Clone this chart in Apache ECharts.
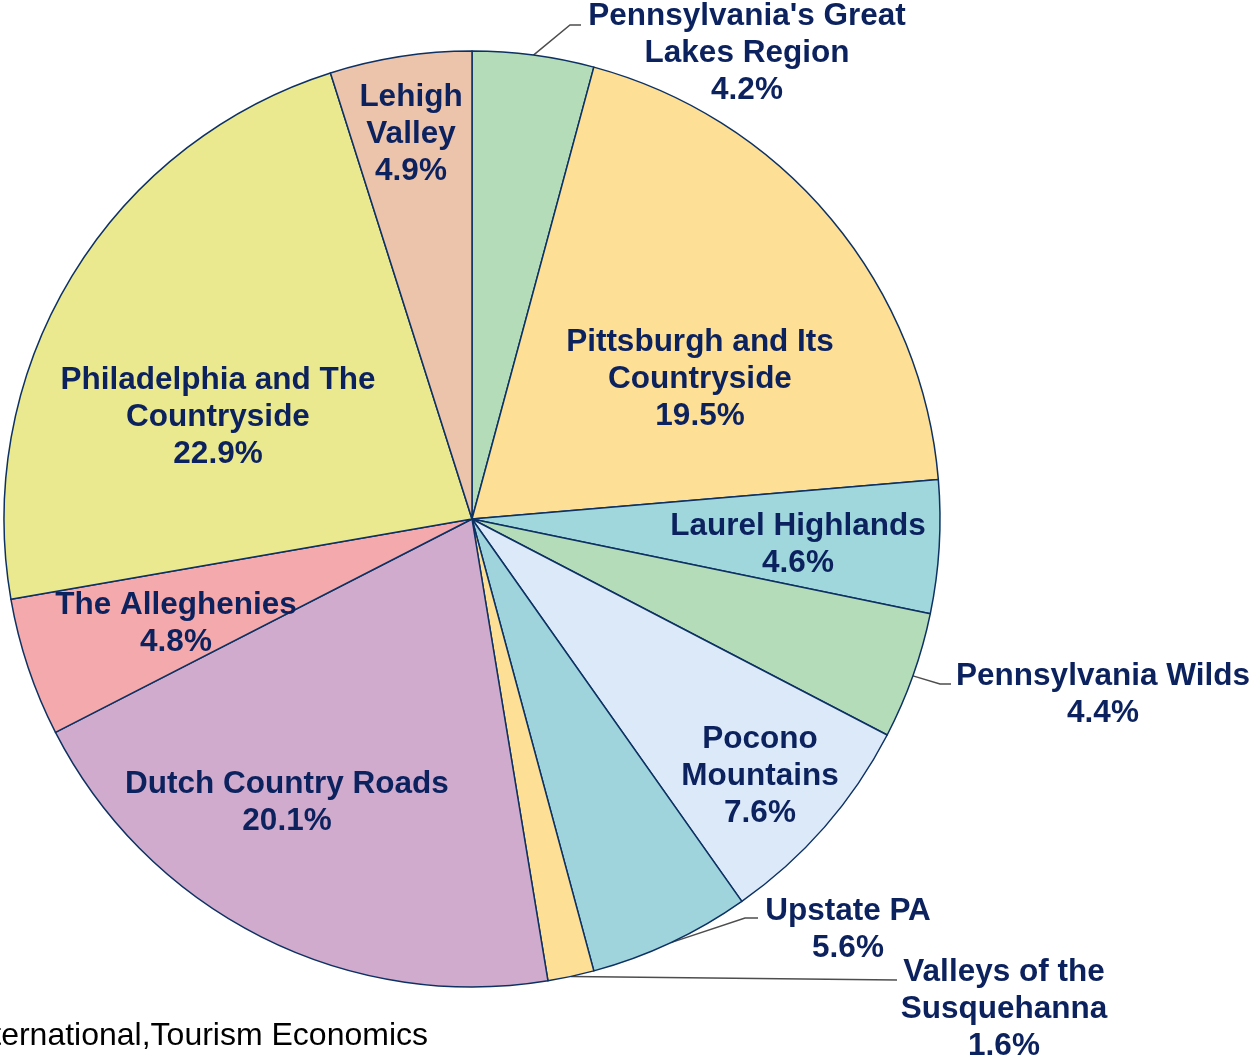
<!DOCTYPE html>
<html>
<head>
<meta charset="utf-8">
<script src="https://cdn.jsdelivr.net/npm/echarts@6/dist/echarts.min.js"></script>
<style>
  html, body { margin: 0; padding: 0; background: #fff; }
  #chart { width: 1254px; height: 1057px; }
</style>
</head>
<body>
<div id="chart"></div>
<script>
// region names (line breaks as in the labels), clockwise from 12 o'clock
const regions = [
  "Pennsylvania's Great\nLakes Region",
  'Pittsburgh and Its\nCountryside',
  'Laurel Highlands',
  'Pennsylvania Wilds',
  'Pocono\nMountains',
  'Upstate PA',
  'Valleys of the\nSusquehanna',
  'Dutch Country Roads',
  'The Alleghenies',
  'Philadelphia and The\nCountryside',
  'Lehigh\nValley'
];
// share of visitor spending, %
const shares = [4.2, 19.5, 4.6, 4.4, 7.6, 5.6, 1.6, 20.1, 4.8, 22.9, 4.9];
const sliceColors = [
  '#b4dcb9', '#fddf95', '#a0d7dc', '#b4dcb9', '#dce9f8', '#9fd4dd',
  '#fddf95', '#d1abcd', '#f4aaad', '#eae98f', '#ecc3ab'
];
const outsideLabels = [0, 3, 5, 6];

// label centres and leader-line elbows (layout only)
const labelPos = [
  [747, 53], [700, 379], [798, 545], [1103, 695], [760, 776], [848, 930],
  [1004, 1009], [287, 803], [176, 624], [218, 417], [411, 134]
];
const leaderElbows = {
  0: [[570, 25], [581, 25]],
  3: [[940, 684], [951, 684]],
  5: [[745, 918], [758, 918]],
  6: [[897, 980]]
};

const chart = echarts.init(document.getElementById('chart'));

const option = {
  animation: false,
  textStyle: { fontFamily: 'Liberation Sans, Arial, sans-serif' },
  graphic: [{
    type: 'text',
    right: 1254 - 428,
    top: 1020,
    style: {
      text: 'International,Tourism Economics',
      fill: '#000',
      font: '32px "Liberation Sans", Arial, sans-serif',
      align: 'right'
    }
  }],
  series: [{
    type: 'pie',
    center: [472, 519],
    radius: 468,
    startAngle: 90,
    clockwise: true,
    avoidLabelOverlap: false,
    itemStyle: { borderColor: '#0d3163', borderWidth: 1.5 },
    label: {
      position: 'inside',
      color: '#0c225e',
      fontWeight: 'bold',
      fontSize: 31.5,
      lineHeight: 37,
      align: 'center',
      fontFamily: 'Liberation Sans, Arial, sans-serif',
      formatter: p => p.name + '\n' + p.value.toFixed(1) + '%'
    },
    labelLine: { show: false, lineStyle: { color: '#4d4d4d', width: 1.5 } },
    labelLayout: params => {
      const i = params.dataIndex;
      const out = {
        x: labelPos[i][0],
        y: labelPos[i][1],
        align: 'center',
        verticalAlign: 'middle'
      };
      if (leaderElbows[i] && params.labelLinePoints) {
        out.labelLinePoints = [params.labelLinePoints[0]].concat(leaderElbows[i]);
      }
      return out;
    },
    data: regions.map((name, i) => {
      const item = { name: name, value: shares[i], itemStyle: { color: sliceColors[i] } };
      if (outsideLabels.indexOf(i) >= 0) {
        item.label = { position: 'outside' };
        item.labelLine = { show: true, length: 10, length2: 10 };
      }
      return item;
    })
  }]
};

chart.setOption(option);
</script>
</body>
</html>
